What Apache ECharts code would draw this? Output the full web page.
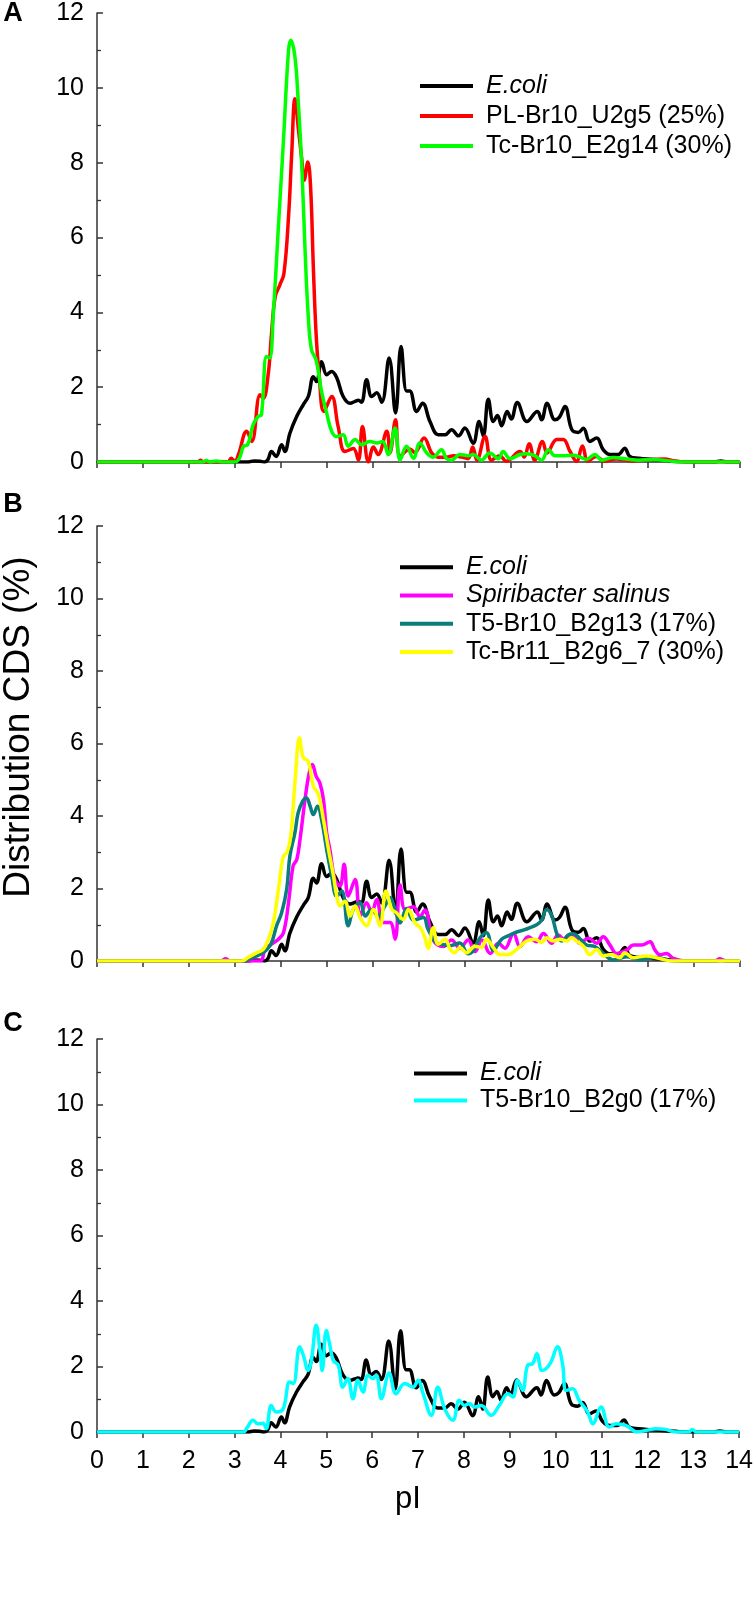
<!DOCTYPE html>
<html><head><meta charset="utf-8">
<script src="https://cdn.jsdelivr.net/npm/echarts@6/dist/echarts.min.js"></script>
<style>html,body{margin:0;padding:0;background:#fff}#c{width:756px;height:1599px}</style>
</head><body><div id="c"></div>
<script>
// ---- data: [pI, % of CDS] ----
const xTickLabels = [0,1,2,3,4,5,6,7,8,9,10,11,12,13,14];
const yTickLabels = [0,2,4,6,8,10,12];
const panelLetters = ['A','B','C'];

const ecoli = [[0,0],[3.3,0],[3.42,0.03],[3.55,0.02],[3.65,0],[3.72,0.06],[3.80,0.28],[3.90,0.15],[4.02,0.46],[4.09,0.28],[4.20,0.77],[4.35,1.22],[4.49,1.53],[4.60,1.75],[4.71,2.28],[4.78,2.15],[4.89,2.68],[5.0,2.33],[5.11,2.42],[5.22,2.25],[5.36,1.75],[5.51,1.57],[5.62,1.62],[5.69,1.65],[5.76,1.6],[5.87,2.2],[5.98,1.75],[6.09,1.85],[6.20,1.6],[6.36,2.78],[6.50,1.31],[6.62,3.09],[6.74,1.9],[6.81,1.9],[6.96,1.35],[7.09,1.57],[7.25,1.08],[7.43,0.73],[7.58,0.73],[7.72,0.86],[7.87,0.7],[8.01,0.91],[8.19,0.5],[8.32,1.08],[8.41,0.7],[8.52,1.68],[8.63,1.08],[8.72,1.24],[8.81,0.97],[8.93,1.35],[9.02,1.15],[9.15,1.59],[9.36,1.08],[9.59,1.35],[9.68,1.13],[9.80,1.57],[9.97,1.13],[10.07,1.2],[10.19,1.48],[10.34,0.86],[10.48,0.79],[10.59,0.9],[10.73,0.55],[10.88,0.64],[11.02,0.33],[11.17,0.2],[11.35,0.2],[11.49,0.37],[11.60,0.15],[11.8,0.1],[12.1,0.07],[12.4,0.04],[12.7,0.01],[13.0,0],[13.45,0],[13.58,0.03],[13.72,0],[14,0]];

const plBr10U2g5 = [[0,0],[2.2,0],[2.25,0.05],[2.32,0],[2.85,0],[2.92,0.1],[3.0,0.02],[3.08,0.2],[3.26,0.82],[3.37,0.55],[3.55,1.8],[3.62,1.7],[3.73,2.37],[3.80,3.44],[3.88,4.42],[3.98,4.73],[4.07,5.04],[4.17,6.55],[4.24,8.25],[4.31,9.71],[4.38,8.96],[4.46,8.07],[4.51,7.53],[4.59,8.02],[4.65,7.36],[4.71,5.22],[4.77,3.44],[4.84,2.28],[4.94,1.35],[5.11,1.75],[5.25,0.95],[5.40,0.28],[5.58,0.36],[5.69,0.05],[5.78,0.95],[5.91,0.0],[6.02,0.4],[6.12,0.2],[6.31,0.82],[6.38,0.25],[6.50,1.13],[6.60,0.15],[6.81,0.35],[6.92,0.25],[7.12,0.64],[7.29,0.24],[7.43,0.13],[7.61,0.13],[7.76,0.17],[7.94,0.13],[8.08,0.09],[8.18,0.4],[8.27,0.05],[8.45,0.68],[8.59,0.05],[8.77,0.17],[8.91,0.02],[9.21,0.28],[9.30,0.13],[9.41,0.49],[9.53,0.05],[9.70,0.55],[9.80,0.24],[10.01,0.6],[10.15,0.6],[10.30,0.28],[10.44,0.02],[10.57,0.43],[10.69,0.02],[10.87,0.15],[11.05,0.02],[11.3,0.08],[11.7,0.03],[12.0,0.07],[12.35,0.08],[12.6,0.02],[12.8,0],[14,0]];

const tcBr10E2g14 = [[0,0],[2.3,0],[2.38,0.04],[2.45,0],[2.6,0.03],[2.75,0],[3.0,0],[3.1,0.1],[3.19,0.42],[3.28,0.46],[3.40,1.0],[3.51,1.22],[3.58,1.26],[3.69,2.82],[3.76,2.78],[3.84,3.98],[3.95,6.29],[4.06,8.6],[4.17,11.0],[4.22,11.27],[4.31,10.82],[4.38,9.67],[4.46,7.89],[4.53,5.67],[4.60,3.89],[4.67,3.0],[4.77,2.73],[4.89,1.88],[5.0,1.31],[5.11,0.82],[5.22,0.68],[5.36,0.73],[5.47,0.42],[5.62,0.6],[5.76,0.46],[5.94,0.55],[6.09,0.51],[6.22,0.55],[6.34,0.2],[6.49,0.91],[6.60,0.05],[6.74,0.42],[6.89,0.1],[7.03,0.51],[7.18,0.24],[7.32,0.13],[7.50,0.33],[7.61,0.09],[7.72,0.05],[7.90,0.2],[8.08,0.17],[8.19,0.2],[8.37,0.05],[8.55,0.24],[8.74,0.09],[8.84,0.28],[8.99,0.09],[9.21,0.2],[9.36,0.22],[9.53,0.17],[9.68,0.05],[9.83,0.33],[9.97,0.17],[10.15,0.17],[10.37,0.18],[10.52,0.13],[10.66,0.07],[10.84,0.2],[10.99,0.05],[11.24,0.12],[11.53,0.08],[11.8,0.05],[12.1,0.07],[12.45,0.03],[12.7,0],[14,0]];

const spiribacter = [[0,0],[2.7,0],[2.8,0.06],[2.9,0],[3.55,0],[3.66,0.32],[3.84,0.5],[3.95,0.6],[4.06,0.78],[4.17,1.61],[4.27,2.62],[4.35,2.8],[4.42,3.35],[4.53,4.46],[4.62,5.19],[4.69,5.42],[4.77,5.1],[4.85,4.92],[4.93,4.46],[5.0,3.54],[5.07,3.08],[5.18,2.25],[5.29,2.07],[5.38,2.67],[5.47,1.79],[5.62,2.25],[5.73,1.24],[5.87,1.61],[5.98,1.33],[6.09,1.7],[6.23,1.06],[6.38,1.06],[6.49,0.6],[6.60,2.1],[6.71,1.42],[6.89,1.5],[7.03,1.22],[7.14,1.41],[7.32,0.58],[7.54,0.4],[7.72,0.58],[7.90,0.35],[8.08,0.58],[8.23,0.26],[8.38,0.58],[8.56,0.21],[8.74,0.49],[8.88,0.35],[9.07,0.76],[9.21,0.4],[9.39,0.67],[9.57,0.53],[9.72,0.76],[9.90,0.49],[10.04,0.72],[10.19,0.58],[10.37,0.72],[10.51,0.49],[10.70,0.63],[10.88,0.49],[11.02,0.67],[11.17,0.44],[11.31,0.21],[11.53,0.3],[11.68,0.44],[11.86,0.44],[12.04,0.53],[12.15,0.3],[12.26,0.17],[12.40,0.21],[12.55,0.07],[12.8,0],[13.45,0],[13.56,0.06],[13.67,0],[14,0]];

const t5Br10B2g13 = [[0,0],[3.2,0],[3.35,0.08],[3.55,0.18],[3.70,0.32],[3.80,0.5],[3.91,0.97],[4.02,1.33],[4.13,1.98],[4.20,2.9],[4.31,3.54],[4.38,4.09],[4.48,4.41],[4.56,4.5],[4.64,4.27],[4.71,4.04],[4.80,4.27],[4.89,3.9],[5.0,3.08],[5.11,2.34],[5.22,1.79],[5.33,1.93],[5.47,0.97],[5.58,1.42],[5.73,1.61],[5.84,1.24],[5.98,1.42],[6.12,1.24],[6.27,1.52],[6.38,1.75],[6.49,1.42],[6.60,1.05],[6.74,1.45],[6.89,1.13],[7.11,1.2],[7.20,0.9],[7.39,0.5],[7.55,0.45],[7.69,0.42],[7.90,0.5],[8.08,0.2],[8.20,0.3],[8.34,0.64],[8.48,0.78],[8.63,0.3],[8.81,0.6],[8.96,0.7],[9.14,0.8],[9.28,0.85],[9.43,0.92],[9.57,1.0],[9.68,1.12],[9.79,1.42],[9.90,1.25],[10.02,0.72],[10.12,0.55],[10.26,0.72],[10.37,0.75],[10.51,0.62],[10.66,0.44],[10.84,0.4],[11.03,0.2],[11.24,0.03],[11.53,0.12],[11.82,0.03],[12.18,0.1],[12.55,0],[14,0]];

const tcBr11B2g67 = [[0,0],[3.15,0],[3.29,0.1],[3.48,0.23],[3.62,0.32],[3.73,0.6],[3.84,1.06],[3.95,1.98],[4.06,2.9],[4.14,3.0],[4.22,3.45],[4.31,4.92],[4.41,6.16],[4.49,5.61],[4.60,5.51],[4.71,4.83],[4.82,4.6],[4.93,3.9],[5.04,3.08],[5.15,2.34],[5.22,1.79],[5.29,1.52],[5.40,1.65],[5.51,1.24],[5.62,1.52],[5.73,1.19],[5.87,0.97],[6.02,1.42],[6.16,0.97],[6.29,1.93],[6.42,1.42],[6.52,1.33],[6.67,1.15],[6.78,1.42],[6.92,1.06],[7.05,0.9],[7.14,0.64],[7.21,0.35],[7.32,0.92],[7.43,0.46],[7.58,0.6],[7.69,0.32],[7.79,0.23],[7.90,0.37],[8.05,0.23],[8.23,0.41],[8.37,0.37],[8.48,0.6],[8.63,0.37],[8.77,0.18],[8.95,0.18],[9.14,0.32],[9.35,0.55],[9.54,0.6],[9.68,0.51],[9.79,0.64],[9.93,0.55],[10.08,0.6],[10.23,0.55],[10.33,0.64],[10.44,0.55],[10.59,0.41],[10.73,0.18],[10.88,0.32],[11.02,0.14],[11.20,0.18],[11.38,0.09],[11.49,0.23],[11.67,0.09],[11.96,0.14],[12.25,0.07],[12.5,0],[14,0]];

const t5Br10B2g0 = [[0,0],[3.19,0],[3.28,0.15],[3.40,0.36],[3.51,0.25],[3.62,0.27],[3.69,0.1],[3.80,0.81],[3.91,0.61],[4.06,0.71],[4.20,1.53],[4.28,1.48],[4.42,2.6],[4.51,2.29],[4.60,1.88],[4.67,2.14],[4.78,3.26],[4.86,2.5],[4.91,1.88],[5.0,3.1],[5.07,2.7],[5.15,2.19],[5.26,2.04],[5.36,1.37],[5.47,1.63],[5.58,1.02],[5.69,1.58],[5.80,1.22],[5.91,1.73],[6.02,1.63],[6.09,1.73],[6.20,1.02],[6.37,1.8],[6.52,1.17],[6.71,1.48],[6.89,1.37],[7.0,1.58],[7.11,1.17],[7.29,0.51],[7.43,1.37],[7.58,0.71],[7.76,0.36],[7.90,0.97],[8.01,0.81],[8.12,0.87],[8.23,0.76],[8.38,0.81],[8.59,0.51],[8.77,0.81],[8.96,1.17],[9.07,1.07],[9.17,1.58],[9.28,1.27],[9.39,2.04],[9.50,2.09],[9.59,2.39],[9.70,1.88],[9.79,1.93],[9.90,2.14],[10.04,2.6],[10.15,2.09],[10.23,1.27],[10.37,1.32],[10.51,0.97],[10.70,0.61],[10.81,0.25],[10.99,0.76],[11.17,0.15],[11.32,0.25],[11.53,0.2],[11.79,0],[11.97,0.05],[12.19,0.1],[12.40,0.08],[12.6,0],[12.9,0],[12.98,0.08],[13.07,0],[14,0]];

const italicNames = ['E.coli','Spiribacter salinus'];

// ---- layout ----
const FONT = "'Liberation Sans', Arial, sans-serif";
const grids = [
  {left:97, width:643, top:13, height:449},
  {left:97, width:643, top:526, height:435},
  {left:97, width:643, top:1039, height:393}
];
const AX = '#333';

function xAxis(i){
  return {gridIndex:i, type:'value', min:0, max:14, interval:1,
    axisLine:{show:true, onZero:false, lineStyle:{color:AX, width:1.5}},
    axisTick:{show:true, inside:false, length:6, lineStyle:{color:AX, width:1.5}},
    axisLabel:{show:i===2, fontSize:25, color:'#000', fontFamily:FONT, margin:17,
      formatter:v=>String(xTickLabels[v])},
    splitLine:{show:false}};
}
function yAxis(i){
  return {gridIndex:i, type:'value', min:0, max:12, interval:2,
    axisLine:{show:true, lineStyle:{color:AX, width:1.5}},
    axisTick:{show:true, inside:true, length:6, lineStyle:{color:AX, width:1.5}},
    minorTick:{show:true, splitNumber:2, length:4, lineStyle:{color:AX, width:1.3}},
    axisLabel:{fontSize:25, color:'#000', fontFamily:FONT, margin:13,
      formatter:v=>String(yTickLabels[v/2])},
    splitLine:{show:false}, minorSplitLine:{show:false}};
}
function line(name, data, color, i){
  return {type:'line', name, data, xAxisIndex:i, yAxisIndex:i,
    symbol:'none', showSymbol:false, smooth:0.4, animation:false,
    lineStyle:{color, width:3.5}, itemStyle:{color}};
}
function legend(names, left, top, lh){
  const base = {fontSize:25, lineHeight:lh, color:'#000', fontFamily:FONT};
  return {orient:'vertical', left, top, padding:0, itemWidth:53, itemHeight:4, itemGap:0,
    icon:'rect', selectedMode:false, data:names,
    formatter:n => '{g|}' + (italicNames.includes(n) ? '{i|' : '{n|') + n + '}',
    textStyle:{fontSize:25, lineHeight:lh, color:'#000', fontFamily:FONT,
      rich:{g:{width:8, height:lh}, n:Object.assign({}, base), i:Object.assign({fontStyle:'italic'}, base)}}};
}

const series = [
  line('E.coli', ecoli, '#000000', 0),
  line('PL-Br10_U2g5 (25%)', plBr10U2g5, '#ff0000', 0),
  line('Tc-Br10_E2g14 (30%)', tcBr10E2g14, '#00ff00', 0),
  line('E.coli', ecoli, '#000000', 1),
  line('Spiribacter salinus', spiribacter, '#ff00ff', 1),
  line('T5-Br10_B2g13 (17%)', t5Br10B2g13, '#0a7d7d', 1),
  line('Tc-Br11_B2g6_7 (30%)', tcBr11B2g67, '#ffff00', 1),
  line('E.coli', ecoli, '#000000', 2),
  line('T5-Br10_B2g0 (17%)', t5Br10B2g0, '#00ffff', 2)
];

const letterY = [14, 505, 1024];
const graphic = panelLetters.map((t,k)=>({type:'text', x:13, y:letterY[k], z:100,
  style:{text:t, fontSize:27, fontWeight:'bold', fontFamily:FONT, fill:'#000', align:'center', verticalAlign:'middle'}}));
graphic.push({type:'text', x:19, y:727, rotation:Math.PI/2,
  style:{text:'Distribution CDS (%)', fontSize:37, fontFamily:FONT, fill:'#000', align:'center', verticalAlign:'middle'}});
graphic.push({type:'text', x:408, y:1499,
  style:{text:'pI', fontSize:31, fontFamily:FONT, fill:'#000', align:'center', verticalAlign:'middle'}});

const chart = echarts.init(document.getElementById('c'), null, {renderer:'canvas'});
chart.setOption({
  backgroundColor:'#fff',
  animation:false,
  grid:grids,
  xAxis:[0,1,2].map(xAxis),
  yAxis:[0,1,2].map(yAxis),
  legend:[
    legend(['E.coli','PL-Br10_U2g5 (25%)','Tc-Br10_E2g14 (30%)'], 420, 71, 30),
    legend(['E.coli','Spiribacter salinus','T5-Br10_B2g13 (17%)','Tc-Br11_B2g6_7 (30%)'], 400, 553, 28.3),
    legend(['E.coli','T5-Br10_B2g0 (17%)'], 414, 1060, 27)
  ],
  graphic,
  series
});
</script>
</body></html>
